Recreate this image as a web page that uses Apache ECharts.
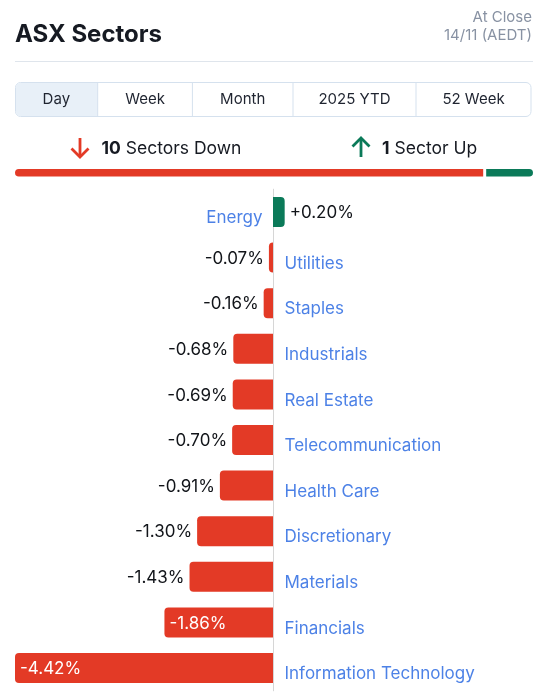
<!DOCTYPE html>
<html>
<head>
<meta charset="utf-8">
<script src="https://cdn.jsdelivr.net/npm/echarts@6/dist/echarts.min.js"></script>
<style>
html,body{margin:0;padding:0;background:#fff;}
#chart{width:543px;height:700px;}
</style>
</head>
<body>
<div id="chart"></div>
<script>
// ---- data ----
var sectors = ['Energy','Utilities','Staples','Industrials','Real Estate','Telecommunication','Health Care','Discretionary','Materials','Financials','Information Technology'];
var changes = [0.20,-0.07,-0.16,-0.68,-0.69,-0.70,-0.91,-1.30,-1.43,-1.86,-4.42];
var tabs = ['Day','Week','Month','2025 YTD','52 Week'];
var downCount = 10;
var upCount = 1;
var titleText = 'ASX Sectors';
var statusLine1 = 'At Close';
var statusLine2 = '14/11 (AEDT)';

var RED = '#e33a26', GREEN = '#0b7a59', BLUE = '#1f62e0', FONT = 'Inter';

var chart = echarts.init(document.getElementById('chart'), null, {renderer:'canvas'});

// tab geometry
var tabEdges = [15, 97.7, 192.4, 293, 416, 531];
var graphics = [
  {type:'text', left:15, top:23, style:{text:titleText, font:'bold 24px Inter', fill:'#161a22'}},
  {type:'text', right:11, top:9.5, style:{text:statusLine1, font:'15px Inter', fill:'#8892a3', textAlign:'right'}},
  {type:'text', right:11, top:27.5, style:{text:statusLine2, font:'15px Inter', fill:'#8892a3', textAlign:'right'}},
  {type:'line', shape:{x1:15, y1:61.5, x2:533, y2:61.5}, style:{stroke:'#dfe5ec', lineWidth:1}},
  {type:'rect', shape:{x:15.5, y:82.5, width:515.5, height:34, r:5}, style:{fill:'#fff', stroke:'#d5e1ee', lineWidth:1}},
  {type:'rect', shape:{x:16, y:83, width:81.7, height:33, r:[4,0,0,4]}, style:{fill:'#e8f0f8'}}
];
for (var i = 1; i < tabEdges.length - 1; i++) {
  graphics.push({type:'line', shape:{x1:tabEdges[i], y1:83, x2:tabEdges[i], y2:116}, style:{stroke:'#d5e1ee', lineWidth:1}});
}
tabs.forEach(function(t, i){
  graphics.push({type:'text', x:(tabEdges[i]+tabEdges[i+1])/2, y:99,
    style:{text:t, font:'15px Inter', fill:'#1f2430', textAlign:'center', textVerticalAlign:'middle'}});
});
// arrows
graphics.push({type:'polyline', shape:{points:[[80,138],[80,157]]}, style:{stroke:RED, lineWidth:2.8}});
graphics.push({type:'polyline', shape:{points:[[71.5,148.5],[80,157],[88.5,148.5]]}, style:{stroke:RED, lineWidth:2.8, fill:null}});
graphics.push({type:'polyline', shape:{points:[[361,138],[361,157]]}, style:{stroke:GREEN, lineWidth:2.8}});
graphics.push({type:'polyline', shape:{points:[[352.5,146.5],[361,138],[369.5,146.5]]}, style:{stroke:GREEN, lineWidth:2.8, fill:null}});
graphics.push({type:'text', x:101.5, y:148.5, style:{text:'{b|' + downCount + '} ' + (downCount===1?'Sector':'Sectors') + ' Down',
  textVerticalAlign:'middle', rich:{b:{font:'bold 17.5px Inter', fill:'#161a22'}}, font:'17.5px Inter', fill:'#161a22'}});
graphics.push({type:'text', x:382, y:148.5, style:{text:'{b|' + upCount + '} ' + (upCount===1?'Sector':'Sectors') + ' Up',
  textVerticalAlign:'middle', rich:{b:{font:'bold 17.5px Inter', fill:'#161a22'}}, font:'17.5px Inter', fill:'#161a22'}});

var option = {
  animation:false,
  graphic: graphics,
  grid:[
    {left:15, right:12, top:189.2, bottom:9.2, containLabel:false},
    {left:15, right:10, top:169, height:7.6}
  ],
  xAxis:[
    {type:'value', gridIndex:0, min:-4.42, max:4.42, show:false},
    {type:'value', gridIndex:1, min:0, max:downCount+upCount, show:false}
  ],
  yAxis:[
    {type:'category', gridIndex:0, data:sectors, inverse:true,
      axisLine:{show:true, onZero:true, lineStyle:{color:'#d6d6d6', width:1}},
      axisTick:{show:false}, axisLabel:{show:false}, splitLine:{show:false}},
    {type:'category', gridIndex:1, data:['count'], show:false}
  ],
  series:[
    {
      type:'bar', xAxisIndex:0, yAxisIndex:0, barWidth:30,
      data: changes.map(function(v){
        var big = v < -1.5;
        return {
          value:v,
          itemStyle:{color: v >= 0 ? GREEN : RED, borderRadius: v >= 0 ? [0,4,4,0] : [4,0,0,4]},
          label:{
            show:true,
            position: v >= 0 ? 'right' : (big ? 'insideLeft' : 'left'),
            distance:5,
            color: big ? '#fff' : '#111419',
            offset:[0,1]
          }
        };
      }),
      label:{fontFamily:FONT, fontSize:17,
        formatter:function(p){ var v = p.value; return (v > 0 ? '+' : '') + v.toFixed(2) + '%'; }}
    },
    {
      type:'scatter', xAxisIndex:0, yAxisIndex:0, symbolSize:1,
      itemStyle:{color:'transparent'},
      data: sectors.map(function(s, i){
        return {value:[0, s], label:{position: changes[i] >= 0 ? 'left' : 'right', distance: changes[i] >= 0 ? 10 : 11}};
      }),
      label:{show:true, fontFamily:FONT, fontSize:17, color:BLUE, offset:[0,6],
        formatter:function(p){ return p.value[1]; }},
      silent:true
    },
    {
      type:'custom', xAxisIndex:1, yAxisIndex:1,
      data:[[0, downCount, 0], [downCount, downCount+upCount, 1]],
      renderItem:function(params, api){
        var base = api.coord([0, 0]);
        var full = api.coord([downCount+upCount, 0]);
        var W = full[0] - base[0];
        var gap = 3;
        var k = (W - gap) / W;
        var a = api.coord([api.value(0), 0]);
        var b = api.coord([api.value(1), 0]);
        var idx = api.value(2);
        var h = api.size([0, 1])[1];
        var x = base[0] + (a[0]-base[0])*k + gap*idx;
        var w = (b[0]-a[0])*k;
        return {type:'rect', shape:{x:x, y:a[1]-h/2, width:w, height:h, r: idx===0 ? [4,0,0,4] : [0,4,4,0]},
          style:{fill: idx===0 ? RED : GREEN}};
      }
    }
  ]
};
chart.setOption(option);
</script>
</body>
</html>
